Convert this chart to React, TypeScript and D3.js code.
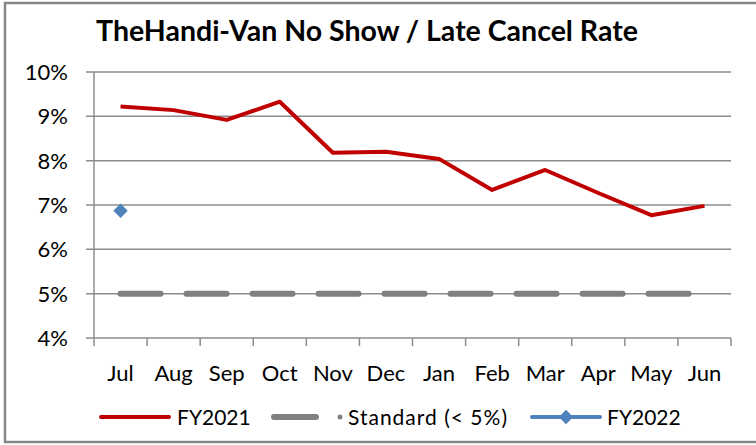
import { useEffect, useRef } from "react";
import * as d3 from "d3";

const months = ["Jul", "Aug", "Sep", "Oct", "Nov", "Dec", "Jan", "Feb", "Mar", "Apr", "May", "Jun"];
const fy2021 = [9.22, 9.14, 8.92, 9.33, 8.18, 8.2, 8.04, 7.34, 7.79, 7.27, 6.77, 6.98];
const standard = [5, 5, 5, 5, 5, 5, 5, 5, 5, 5, 5, 5];
const fy2022 = [6.87];
const yTicks = [4, 5, 6, 7, 8, 9, 10];

const FONT = "Lato, 'Open Sans', sans-serif";

export default function App() {
  const svgRef = useRef<SVGSVGElement | null>(null);

  useEffect(() => {
    if (!svgRef.current) return;
    const width = 756;
    const height = 445;
    const margin = { top: 72, left: 94 };
    const innerW = 731 - margin.left;
    const innerH = 338 - margin.top;

    const svg = d3.select(svgRef.current);
    svg.selectAll("*").remove();
    svg.attr("width", width).attr("height", height).attr("viewBox", `0 0 ${width} ${height}`);

    svg.append("rect").attr("width", width).attr("height", height).attr("fill", "#fff");
    // chart border (right side is cropped off)
    svg
      .append("path")
      .attr("d", `M${width},3H5V442H${width}`)
      .attr("fill", "none")
      .attr("stroke", "#868686")
      .attr("stroke-width", 2.5);

    svg
      .append("text")
      .attr("x", 367)
      .attr("y", 41)
      .attr("text-anchor", "middle")
      .attr("font-family", FONT)
      .attr("font-weight", "bold")
      .attr("font-size", 28.5)
      .attr("fill", "#000")
      .text("TheHandi-Van No Show / Late Cancel Rate");

    const g = svg.append("g").attr("transform", `translate(${margin.left},${margin.top})`);

    const x = d3.scaleBand<string>().domain(months).range([0, innerW]);
    const y = d3.scaleLinear().domain([4, 10]).range([innerH, 0]);
    const cx = (m: string) => (x(m) ?? 0) + x.bandwidth() / 2;

    // gridlines + y ticks
    yTicks.forEach((t) => {
      g.append("line")
        .attr("x1", -8)
        .attr("x2", innerW)
        .attr("y1", y(t))
        .attr("y2", y(t))
        .attr("stroke", "#8c8c8c")
        .attr("stroke-width", 1.5);
      g.append("text")
        .attr("x", -26)
        .attr("y", y(t))
        .attr("dy", "0.36em")
        .attr("text-anchor", "end")
        .attr("font-family", FONT)
        .attr("font-size", 22)
        .attr("fill", "#000")
        .text(`${t}%`);
    });

    // y axis line
    g.append("line")
      .attr("x1", 0)
      .attr("x2", 0)
      .attr("y1", 0)
      .attr("y2", innerH)
      .attr("stroke", "#8c8c8c")
      .attr("stroke-width", 1.5);

    // x ticks at band edges
    const edges = months.map((m) => x(m) ?? 0).concat([innerW]);
    edges.forEach((e) => {
      g.append("line")
        .attr("x1", e)
        .attr("x2", e)
        .attr("y1", innerH)
        .attr("y2", innerH + 8)
        .attr("stroke", "#8c8c8c")
        .attr("stroke-width", 1.5);
    });

    months.forEach((m) => {
      g.append("text")
        .attr("x", cx(m))
        .attr("y", innerH + 43)
        .attr("text-anchor", "middle")
        .attr("font-family", FONT)
        .attr("font-size", 22)
        .attr("fill", "#000")
        .text(m);
    });

    const line = d3
      .line<number>()
      .x((_, i) => cx(months[i]))
      .y((d) => y(d));

    // standard dashed
    g.append("path")
      .datum(standard)
      .attr("d", line)
      .attr("fill", "none")
      .attr("stroke", "#808080")
      .attr("stroke-width", 6)
      .attr("stroke-linecap", "round")
      .attr("stroke-dasharray", "40 26");

    // FY2021
    g.append("path")
      .datum(fy2021)
      .attr("d", line)
      .attr("fill", "none")
      .attr("stroke", "#c00000")
      .attr("stroke-width", 4)
      .attr("stroke-linejoin", "round");

    // FY2022 marker
    const diamond = d3.symbol().type(d3.symbolDiamond2).size(130);
    fy2022.forEach((v, i) => {
      g.append("path")
        .attr("d", diamond()!)
        .attr("transform", `translate(${cx(months[i])},${y(v)})`)
        .attr("fill", "#4f81bd");
    });

    // legend
    const ly = 417;
    const fs = 21;
    const leg = svg.append("g");
    leg.append("line").attr("x1", 101).attr("x2", 169).attr("y1", ly).attr("y2", ly)
      .attr("stroke", "#c00000").attr("stroke-width", 4).attr("stroke-linecap", "round");
    leg.append("text").attr("x", 177).attr("y", ly).attr("dy", "0.36em")
      .attr("font-family", FONT).attr("font-size", fs).text("FY2021");

    leg.append("line").attr("x1", 274).attr("x2", 316).attr("y1", ly).attr("y2", ly)
      .attr("stroke", "#808080").attr("stroke-width", 6).attr("stroke-linecap", "round");
    leg.append("circle").attr("cx", 340).attr("cy", ly).attr("r", 2.5).attr("fill", "#808080");
    leg.append("text").attr("x", 348).attr("y", ly).attr("dy", "0.36em")
      .attr("font-family", FONT).attr("font-size", fs)
      .attr("textLength", 159).attr("lengthAdjust", "spacing")
      .text("Standard (< 5%)");

    leg.append("line").attr("x1", 532).attr("x2", 600).attr("y1", ly).attr("y2", ly)
      .attr("stroke", "#4f81bd").attr("stroke-width", 4).attr("stroke-linecap", "round");
    leg.append("path").attr("d", diamond()!).attr("transform", `translate(566,${ly})`)
      .attr("fill", "#4f81bd");
    leg.append("text").attr("x", 607).attr("y", ly).attr("dy", "0.36em")
      .attr("font-family", FONT).attr("font-size", fs).text("FY2022");
  }, []);

  return (
    <div style={{ position: "fixed", left: 0, top: 0 }}>
      <svg ref={svgRef} style={{ display: "block" }}></svg>
    </div>
  );
}
